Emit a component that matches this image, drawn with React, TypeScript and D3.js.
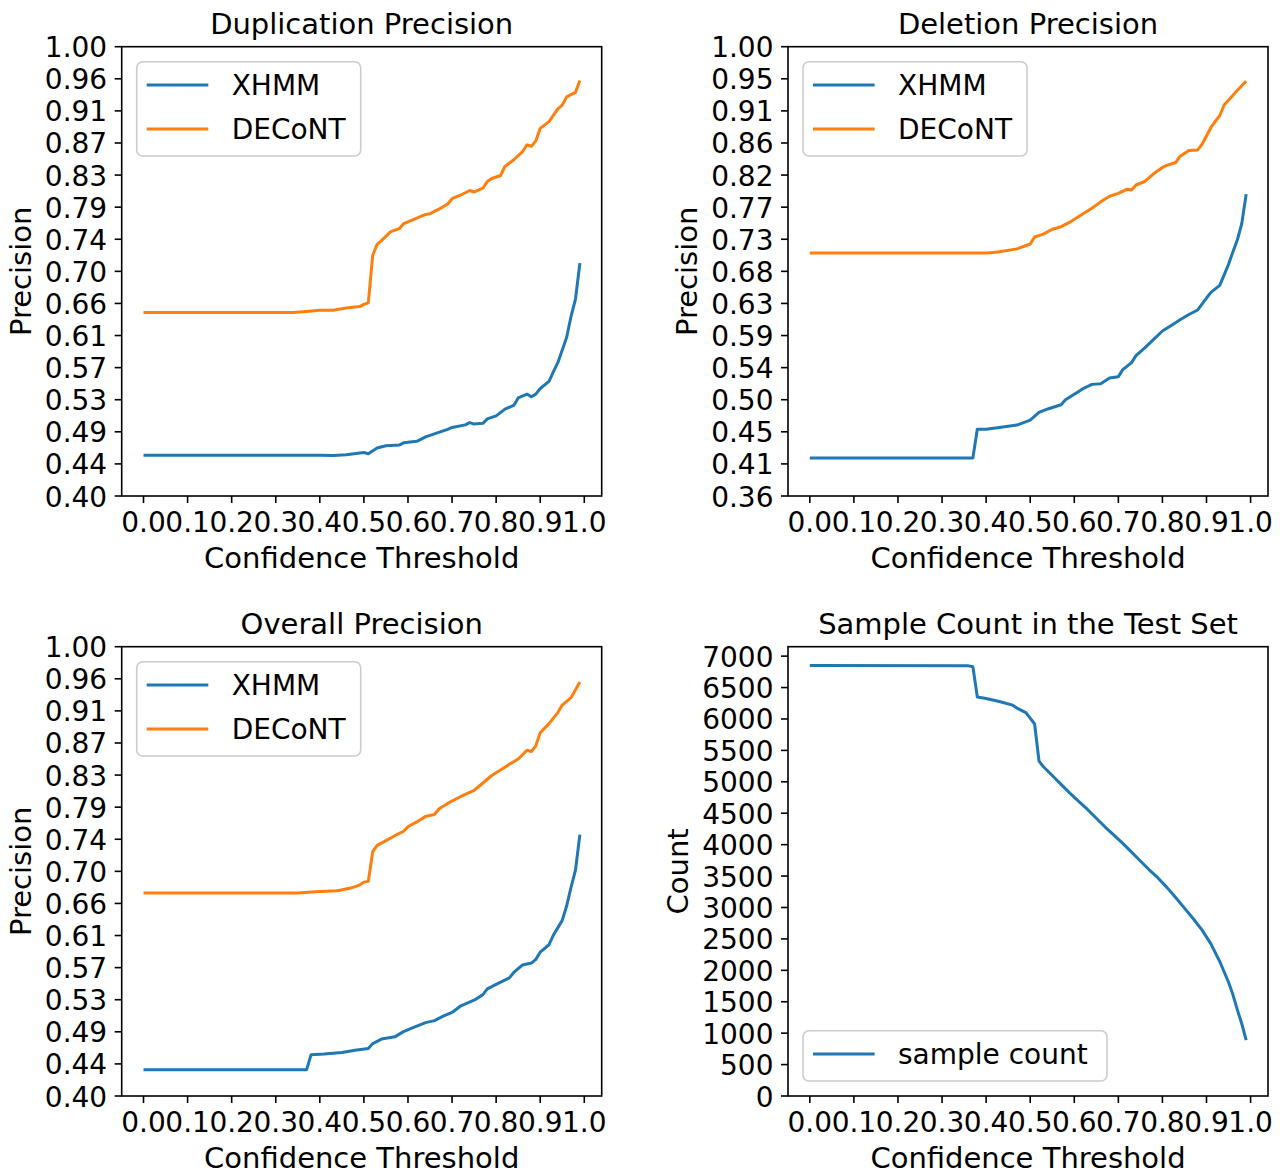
import React from 'react';
import * as d3 from 'd3';

const FONT = "'DejaVu Sans', sans-serif";
const BLUE = '#1f77b4';
const ORANGE = '#ff7f0e';

// ---------- tick values / labels ----------
const xTickValues = [0.0, 0.1, 0.2, 0.3, 0.4, 0.5, 0.6, 0.7, 0.8, 0.9, 1.0];
const xTickLabels = ['0.0', '0.1', '0.2', '0.3', '0.4', '0.5', '0.6', '0.7', '0.8', '0.9', '1.0'];

const precTickValues = [0.4, 0.442857, 0.485714, 0.528571, 0.571429, 0.614286, 0.657143, 0.7,
  0.742857, 0.785714, 0.828571, 0.871429, 0.914286, 0.957143, 1.0];
const precTickLabels = ['0.40', '0.44', '0.49', '0.53', '0.57', '0.61', '0.66', '0.70',
  '0.74', '0.79', '0.83', '0.87', '0.91', '0.96', '1.00'];

const delTickValues = [0.36, 0.405714, 0.451429, 0.497143, 0.542857, 0.588571, 0.634286, 0.68,
  0.725714, 0.771429, 0.817143, 0.862857, 0.908571, 0.954286, 1.0];
const delTickLabels = ['0.36', '0.41', '0.45', '0.50', '0.54', '0.59', '0.63', '0.68',
  '0.73', '0.77', '0.82', '0.86', '0.91', '0.95', '1.00'];

const countTickValues = [0, 500, 1000, 1500, 2000, 2500, 3000, 3500, 4000, 4500, 5000, 5500, 6000, 6500, 7000];
const countTickLabels = ['0', '500', '1000', '1500', '2000', '2500', '3000', '3500', '4000', '4500',
  '5000', '5500', '6000', '6500', '7000'];

// ---------- series: [confidence threshold, value] ----------
const dupXhmm: [number, number][] = [
  [0.00, 0.4545], [0.40, 0.4545], [0.43, 0.4540], [0.46, 0.4550], [0.50, 0.4580], [0.51, 0.4565],
  [0.53, 0.4640], [0.55, 0.4670], [0.58, 0.4680], [0.59, 0.4710], [0.62, 0.4730], [0.64, 0.4790],
  [0.66, 0.4830], [0.69, 0.4890], [0.70, 0.4915], [0.73, 0.4950], [0.74, 0.4980], [0.75, 0.4960],
  [0.77, 0.4970], [0.78, 0.5030], [0.80, 0.5070], [0.82, 0.5160], [0.84, 0.5210], [0.85, 0.5310],
  [0.87, 0.5360], [0.88, 0.5326], [0.89, 0.5360], [0.90, 0.5435], [0.92, 0.5530], [0.93, 0.5660],
  [0.94, 0.5780], [0.95, 0.5950], [0.96, 0.6120], [0.97, 0.6400], [0.98, 0.6630], [0.99, 0.7110],
];
const dupDecont: [number, number][] = [
  [0.00, 0.645], [0.34, 0.645], [0.37, 0.6465], [0.40, 0.648], [0.43, 0.648], [0.46, 0.651],
  [0.49, 0.653], [0.50, 0.656], [0.51, 0.658], [0.52, 0.7215], [0.53, 0.736], [0.54, 0.741],
  [0.56, 0.7527], [0.58, 0.757], [0.59, 0.7636], [0.60, 0.766], [0.62, 0.771], [0.64, 0.776],
  [0.65, 0.777], [0.67, 0.783], [0.69, 0.790], [0.70, 0.797], [0.72, 0.802], [0.73, 0.805],
  [0.74, 0.808], [0.75, 0.806], [0.77, 0.811], [0.78, 0.820], [0.79, 0.824], [0.81, 0.828],
  [0.82, 0.840], [0.84, 0.849], [0.86, 0.860], [0.87, 0.869], [0.88, 0.867], [0.89, 0.874],
  [0.90, 0.891], [0.92, 0.900], [0.94, 0.917], [0.95, 0.922], [0.96, 0.933], [0.98, 0.939],
  [0.99, 0.955],
];

const delXhmm: [number, number][] = [
  [0.00, 0.4143], [0.37, 0.4143], [0.38, 0.455], [0.40, 0.455], [0.43, 0.4576], [0.47, 0.461],
  [0.50, 0.468], [0.52, 0.479], [0.54, 0.484], [0.57, 0.490], [0.58, 0.497], [0.61, 0.509],
  [0.62, 0.513], [0.64, 0.519], [0.66, 0.520], [0.68, 0.528], [0.70, 0.530], [0.71, 0.540],
  [0.73, 0.550], [0.74, 0.560], [0.76, 0.571], [0.78, 0.583], [0.80, 0.595], [0.82, 0.603],
  [0.84, 0.611], [0.86, 0.6185], [0.88, 0.625], [0.90, 0.642], [0.91, 0.650], [0.93, 0.660],
  [0.95, 0.690], [0.96, 0.708], [0.97, 0.725], [0.98, 0.748], [0.99, 0.790],
];
const delDecont: [number, number][] = [
  [0.00, 0.706], [0.40, 0.706], [0.41, 0.7066], [0.43, 0.708], [0.47, 0.712], [0.50, 0.719],
  [0.51, 0.729], [0.53, 0.733], [0.55, 0.740], [0.57, 0.7436], [0.59, 0.750], [0.61, 0.758],
  [0.63, 0.766], [0.64, 0.770], [0.66, 0.779], [0.68, 0.787], [0.70, 0.791], [0.72, 0.797],
  [0.73, 0.796], [0.74, 0.803], [0.76, 0.808], [0.78, 0.819], [0.80, 0.828], [0.81, 0.831],
  [0.83, 0.835], [0.84, 0.844], [0.86, 0.852], [0.88, 0.853], [0.89, 0.861], [0.91, 0.885],
  [0.93, 0.902], [0.94, 0.917], [0.96, 0.931], [0.97, 0.938], [0.99, 0.951],
];

const allXhmm: [number, number][] = [
  [0.00, 0.4352], [0.37, 0.4352], [0.38, 0.455], [0.41, 0.456], [0.45, 0.458], [0.48, 0.461],
  [0.51, 0.4635], [0.52, 0.470], [0.54, 0.476], [0.57, 0.479], [0.59, 0.486], [0.61, 0.491],
  [0.64, 0.498], [0.66, 0.5007], [0.68, 0.5066], [0.70, 0.5116], [0.72, 0.5205], [0.75, 0.528],
  [0.77, 0.5354], [0.78, 0.543], [0.80, 0.549], [0.83, 0.5577], [0.84, 0.565], [0.86, 0.575],
  [0.88, 0.5775], [0.89, 0.5825], [0.90, 0.592], [0.92, 0.602], [0.93, 0.615], [0.95, 0.6345],
  [0.96, 0.654], [0.97, 0.679], [0.98, 0.7015], [0.99, 0.749],
];
const allDecont: [number, number][] = [
  [0.00, 0.671], [0.35, 0.671], [0.40, 0.673], [0.44, 0.674], [0.47, 0.6777], [0.49, 0.6817],
  [0.50, 0.6856], [0.51, 0.6866], [0.52, 0.7263], [0.53, 0.7347], [0.55, 0.741], [0.57, 0.7476],
  [0.59, 0.7536], [0.60, 0.7595], [0.62, 0.766], [0.64, 0.7734], [0.66, 0.776], [0.67, 0.7833],
  [0.69, 0.7907], [0.71, 0.797], [0.72, 0.800], [0.74, 0.8056], [0.75, 0.808], [0.77, 0.818],
  [0.79, 0.828], [0.81, 0.8354], [0.83, 0.843], [0.85, 0.850], [0.87, 0.8617], [0.88, 0.860],
  [0.89, 0.8676], [0.90, 0.885], [0.92, 0.8973], [0.94, 0.912], [0.95, 0.922], [0.97, 0.932],
  [0.99, 0.953],
];

const sampleCount: [number, number][] = [
  [0.00, 6850], [0.36, 6845], [0.37, 6830], [0.38, 6350], [0.40, 6327], [0.43, 6279], [0.46, 6220],
  [0.47, 6173], [0.49, 6102], [0.50, 6014], [0.51, 5920], [0.52, 5330], [0.53, 5240], [0.55, 5100],
  [0.57, 4960], [0.59, 4820], [0.61, 4690], [0.63, 4560], [0.65, 4420], [0.67, 4280], [0.69, 4150],
  [0.71, 4020], [0.73, 3880], [0.75, 3740], [0.77, 3600], [0.79, 3470], [0.81, 3320], [0.83, 3160],
  [0.85, 2990], [0.87, 2820], [0.89, 2640], [0.91, 2420], [0.93, 2140], [0.95, 1810], [0.96, 1610],
  [0.97, 1370], [0.98, 1150], [0.99, 890],
];

// ---------- layout ----------
const W = 480;
const H = 449.3;
const X_DOMAIN: [number, number] = [-0.0495, 1.0395];

type Series = { name: string; color: string; data: [number, number][] };

interface PanelProps {
  x0: number;
  y0: number;
  title: string;
  ylabel: string;
  ylabelOffset: number;
  yDomain: [number, number];
  yTickValues: number[];
  yTickLabels: string[];
  series: Series[];
  legendWidth: number;
  legendLower?: boolean;
}

function Panel(p: PanelProps) {
  const xs = d3.scaleLinear().domain(X_DOMAIN).range([p.x0, p.x0 + W]);
  const ys = d3.scaleLinear().domain(p.yDomain).range([p.y0 + H, p.y0]);
  const line = d3.line<[number, number]>().x((d) => xs(d[0])).y((d) => ys(d[1]));
  const bottom = p.y0 + H;
  const rowGap = 44;
  const legendH = 50.3 + rowGap * (p.series.length - 1);
  const bx = p.x0 + 15;
  const by = p.legendLower ? bottom - 15 - legendH : p.y0 + 15;

  return (
    <g>
      <text x={p.x0 + W / 2} y={p.y0 - 13} textAnchor="middle" fontSize={29} fontFamily={FONT} fill="#000">
        {p.title}
      </text>
      {p.series.map((s) => (
        <path key={s.name} d={line(s.data) || ''} fill="none" stroke={s.color} strokeWidth={3}
          strokeLinejoin="round" strokeLinecap="butt" />
      ))}
      <rect x={p.x0} y={p.y0} width={W} height={H} fill="none" stroke="#000" strokeWidth={1.6} />
      {xTickValues.map((v, i) => (
        <g key={'xt' + i}>
          <line x1={xs(v)} x2={xs(v)} y1={bottom} y2={bottom + 7} stroke="#000" strokeWidth={1.6} />
          <text x={xs(v)} y={bottom + 36} textAnchor="middle" fontSize={28} fontFamily={FONT} fill="#000">
            {xTickLabels[i]}
          </text>
        </g>
      ))}
      {p.yTickValues.map((v, i) => (
        <g key={'yt' + i}>
          <line x1={p.x0 - 7} x2={p.x0} y1={ys(v)} y2={ys(v)} stroke="#000" strokeWidth={1.6} />
          <text x={p.x0 - 14.5} y={ys(v) + 10.5} textAnchor="end" fontSize={28} fontFamily={FONT} fill="#000">
            {p.yTickLabels[i]}
          </text>
        </g>
      ))}
      <text x={p.x0 + W / 2} y={bottom + 72} textAnchor="middle" fontSize={29} fontFamily={FONT} fill="#000">
        Confidence Threshold
      </text>
      <text transform={`translate(${p.x0 - p.ylabelOffset},${p.y0 + H / 2}) rotate(-90)`} textAnchor="middle"
        fontSize={29} fontFamily={FONT} fill="#000">
        {p.ylabel}
      </text>
      <g>
        <rect x={bx} y={by} width={p.legendWidth} height={legendH} rx={6} ry={6}
          fill="#ffffff" fillOpacity={0.8} stroke="#cccccc" strokeWidth={1.6} />
        {p.series.map((s, i) => {
          const cy = by + 23.3 + i * rowGap;
          return (
            <g key={'lg' + s.name}>
              <line x1={bx + 10} x2={bx + 71.6} y1={cy} y2={cy} stroke={s.color} strokeWidth={3} />
              <text x={bx + 95} y={cy + 10.2} fontSize={28} fontFamily={FONT} fill="#000">
                {s.name}
              </text>
            </g>
          );
        })}
      </g>
    </g>
  );
}

export default function App() {
  const left1 = 121.7;
  const left2 = 788;
  const top1 = 46.7;
  const top2 = 646.7;
  return (
    <svg width={1280} height={1172} viewBox="0 0 1280 1172"
      style={{ position: 'absolute', left: 0, top: 0, background: '#fff' }}>
      <rect x={0} y={0} width={1280} height={1172} fill="#fff" />
      <Panel x0={left1} y0={top1} title="Duplication Precision" ylabel="Precision" ylabelOffset={90.7}
        yDomain={[0.4, 1.0]} yTickValues={precTickValues} yTickLabels={precTickLabels}
        series={[{ name: 'XHMM', color: BLUE, data: dupXhmm }, { name: 'DECoNT', color: ORANGE, data: dupDecont }]}
        legendWidth={224} />
      <Panel x0={left2} y0={top1} title="Deletion Precision" ylabel="Precision" ylabelOffset={90.7}
        yDomain={[0.36, 1.0]} yTickValues={delTickValues} yTickLabels={delTickLabels}
        series={[{ name: 'XHMM', color: BLUE, data: delXhmm }, { name: 'DECoNT', color: ORANGE, data: delDecont }]}
        legendWidth={224} />
      <Panel x0={left1} y0={top2} title="Overall Precision" ylabel="Precision" ylabelOffset={90.7}
        yDomain={[0.4, 1.0]} yTickValues={precTickValues} yTickLabels={precTickLabels}
        series={[{ name: 'XHMM', color: BLUE, data: allXhmm }, { name: 'DECoNT', color: ORANGE, data: allDecont }]}
        legendWidth={224} />
      <Panel x0={left2} y0={top2} title="Sample Count in the Test Set" ylabel="Count" ylabelOffset={100}
        yDomain={[0, 7150]} yTickValues={countTickValues} yTickLabels={countTickLabels}
        series={[{ name: 'sample count', color: BLUE, data: sampleCount }]}
        legendWidth={304} legendLower />
    </svg>
  );
}
